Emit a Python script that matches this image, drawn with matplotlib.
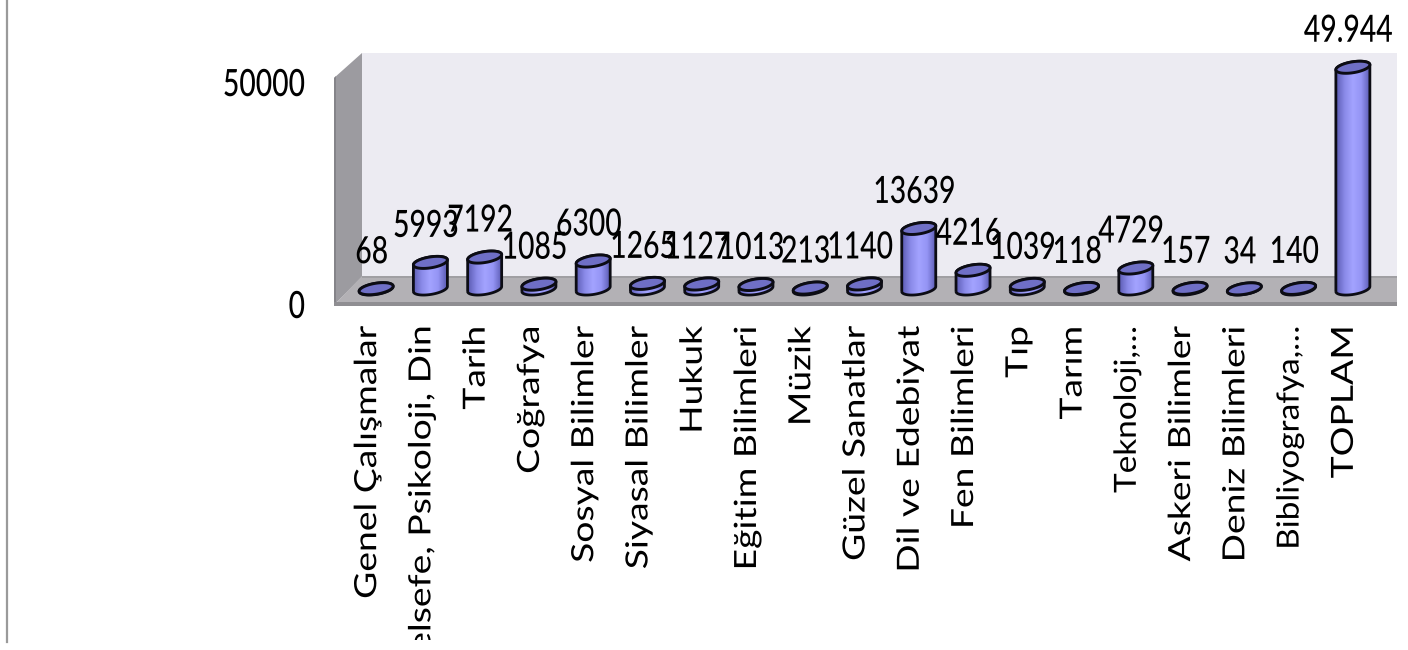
import numpy as np
import matplotlib
matplotlib.use("Agg")
import matplotlib.pyplot as plt
from matplotlib.patches import Polygon, PathPatch, Rectangle
from matplotlib.path import Path
from matplotlib.lines import Line2D
from matplotlib.transforms import IdentityTransform, Affine2D, ScaledTranslation
from matplotlib.colors import LinearSegmentedColormap
from matplotlib.patheffects import AbstractPathEffect

categories = ["Genel Çalışmalar", "Felsefe, Psikoloji, Din", "Tarih", "Coğrafya",
              "Sosyal Bilimler", "Siyasal Bilimler", "Hukuk", "Eğitim Bilimleri",
              "Müzik", "Güzel Sanatlar", "Dil ve Edebiyat", "Fen Bilimleri", "Tıp",
              "Tarım", "Teknoloji,…", "Askeri Bilimler", "Deniz Bilimleri",
              "Bibliyografya,…", "TOPLAM"]
values = [68, 5993, 7192, 1085, 6300, 1265, 1127, 1013, 213, 1140, 13639, 4216,
          1039, 118, 4729, 157, 34, 140, 49944]
value_labels = ["68", "5993", "7192", "1085", "6300", "1265", "1127", "1013", "213",
                "1140", "13639", "4216", "1039", "118", "4729", "157", "34", "140",
                "49.944"]
y_ticks = [0, 50000]


class Condense(AbstractPathEffect):
    """Draw a text narrower or wider, about its centre or its right end."""

    def __init__(self, factor, anchor="center"):
        super().__init__()
        self.factor = factor
        self.anchor = anchor

    def draw_path(self, renderer, gc, tpath, affine, rgbFace=None):
        ext = tpath.get_extents()
        x0 = ext.x1 if self.anchor == "right" else (ext.x0 + ext.x1) / 2
        squeeze = Affine2D().translate(-x0, 0).scale(self.factor, 1).translate(x0, 0)
        renderer.draw_path(gc, tpath, squeeze + affine, rgbFace)


W, H = 1408, 650
NARROW = ["Lato", "DejaVu Sans"]
SQUEEZE = 0.755
fig = plt.figure(figsize=(W / 100, H / 100), dpi=100, facecolor="white")
L, R, T, B = 340, 1371, 82, 304
ax = fig.add_axes([L / W, 1 - B / H, (R - L) / W, (B - T) / H])
ax.set_xlim(-0.5, len(values) - 0.5)
ax.set_ylim(0, 50000)
ax.set_autoscale_on(False)
ax.patch.set_visible(False)
for s in ax.spines.values():
    s.set_visible(False)

px_x = (R - L) / len(values)
px_y = (B - T) / 50000


def wall(points, color, z=0.1):
    pts = [(x, H - y) for x, y in points]
    ax.add_patch(Polygon(pts, closed=True, facecolor=color, edgecolor="none",
                         transform=IdentityTransform(), clip_on=False, zorder=z))


# chart box: back wall, side wall, floor
wall([(362, 53), (1397, 53), (1397, 277), (362, 277)], "#ecebf2")
wall([(334, 78), (362, 53), (362, 277), (334, 305)], "#9c9ba0")
wall([(334, 78), (336, 76), (336, 305), (334, 305)], "#858489", z=0.15)
wall([(336, 303), (362, 276), (1397, 276), (1397, 303)], "#b3b1b5", z=0.16)
wall([(362, 275.5), (1397, 275.5), (1397, 278), (362, 278)], "#a09fa3", z=0.2)
wall([(334, 302), (1397, 302), (1397, 305.5), (334, 305.5)], "#8f8e92", z=0.2)

# cylinders
dx = 9 / px_x
base = 15 / px_y
a = 17 / px_x
b = 5.5 / px_y
slant = 2.5 / px_y
cmap = LinearSegmentedColormap.from_list("cyl", ["#5c5cb4", "#8a8ae8", "#a3a3ff", "#9494f4", "#5c5cb4"])
grad = np.linspace(0, 1, 64).reshape(1, -1)


def ell(cx, cy, t):
    return np.column_stack([cx + a * np.cos(t), cy + b * np.sin(t) + slant * np.cos(t)])


xs = np.arange(len(values))
for i, v in zip(xs, values):
    cx = i + dx
    body = np.vstack([ell(cx, base, np.linspace(np.pi, 2 * np.pi, 40)),
                      ell(cx, base + v, np.linspace(0, np.pi, 40))])
    ring = Path(np.vstack([body, body[:1]]))
    im = ax.imshow(grad, cmap=cmap, aspect="auto", zorder=3.1, interpolation="bilinear",
                   extent=(cx - a, cx + a, base - 2 * b, base + v + 2 * b))
    im.set_clip_box(fig.bbox)
    im.set_clip_path(PathPatch(ring, transform=ax.transData))
    ax.add_patch(PathPatch(ring, facecolor="none", edgecolor="#0c0c14", lw=2.0,
                           zorder=3.2, clip_on=False))
    top = ell(cx, base + v, np.linspace(0, 2 * np.pi, 80))
    ax.add_patch(Polygon(top, closed=True, facecolor="#6f6fc6", edgecolor="#0c0c14",
                         lw=2.1, zorder=3.3, clip_on=False))

for i, v, t in zip(xs, values, value_labels):
    ax.annotate(t, (i + dx, base + v), xytext=(-4.5 * 0.72, 36 * 0.72),
                textcoords="offset points", ha="center", va="center",
                family=NARROW, fontsize=27, weight="medium", color="black", zorder=5,
                annotation_clip=False, path_effects=[Condense(SQUEEZE)])

ax.set_yticks(y_ticks)
ax.set_yticklabels([str(t) for t in y_ticks], family=NARROW, fontsize=27, weight="medium")
for lab in ax.get_yticklabels():
    lab.set_path_effects([Condense(SQUEEZE, "right")])
ax.tick_params(axis="y", length=0, pad=25)
ax.set_xticks(xs)
ax.set_xticklabels(categories, rotation=90, ha="center", va="top",
                   family=["Lato", "DejaVu Sans"], fontsize=22)
for lab, name in zip(ax.get_xticklabels(), categories):
    if name.endswith("…"):
        # the cut-off labels reach up to the floor edge and run tighter
        lab.set_path_effects([Condense(1.09, "right")])
        lab.set_transform(lab.get_transform()
                          + ScaledTranslation(0, 25 / 100, fig.dpi_scale_trans))
    else:
        lab.set_path_effects([Condense(1.22, "right")])
ax.tick_params(axis="x", length=0, pad=16)

# picture edge: grey rule at left, white below the cut
fig.add_artist(Rectangle((0, 0), 1, 1 - 640 / H, transform=fig.transFigure,
                         facecolor="white", edgecolor="none", zorder=10))
fig.add_artist(Line2D([7 / W, 7 / W], [1 - 642 / H, 1], transform=fig.transFigure,
                      color="#9a9a9a", lw=1.6, zorder=11))

fig.savefig("out.png", dpi=100)
